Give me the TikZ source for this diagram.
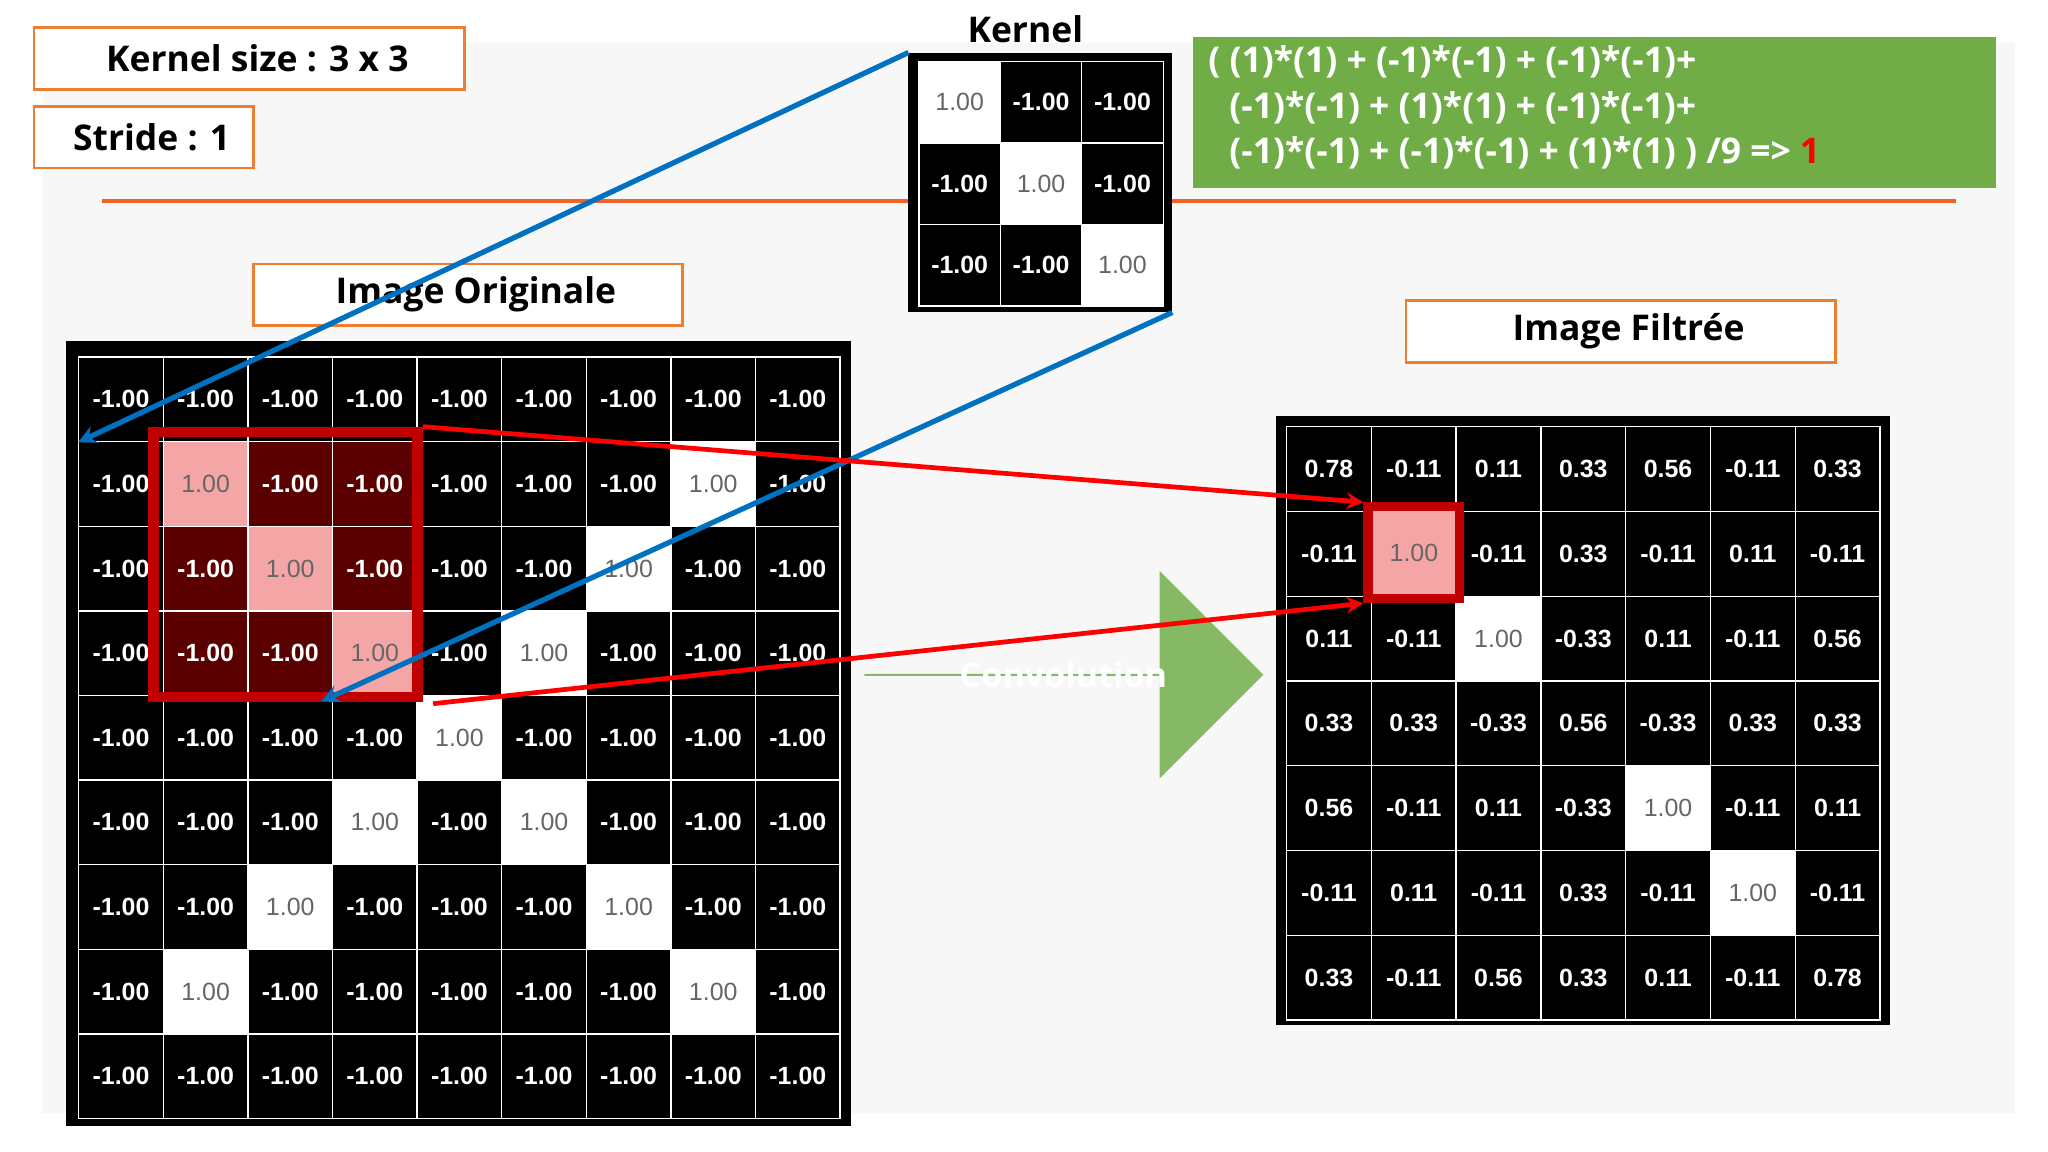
\documentclass[tikz,border=0pt]{standalone}
\usepackage{fontspec}
\setmainfont{Open Sans}
\newfontfamily\numf{Liberation Sans}
\usetikzlibrary{shapes.arrows}
\definecolor{obox}{HTML}{ED7D31}
\definecolor{gbox}{HTML}{70AD47}
\definecolor{bl}{HTML}{0070C0}
\definecolor{dred}{HTML}{C00000}
\definecolor{pinkc}{HTML}{F4A6A6}
\definecolor{drk}{HTML}{5A0000}
\definecolor{bg}{HTML}{F7F7F7}
\tikzset{
 lab/.style={draw=obox,line width=1pt,fill=white,anchor=north west,inner sep=0pt,font=\fontsize{13.5}{15}\selectfont\bfseries},
 negc/.style={draw=white,line width=0.5pt,fill=black,text=white,font=\numf\fontsize{9.5}{10}\selectfont\bfseries,inner sep=0pt},
 posc/.style={draw=white,line width=0.5pt,fill=white,text=black!60,font=\numf\fontsize{9.5}{10}\selectfont,inner sep=0pt},
 frame/.style={fill=black},
 blu/.style={bl,line width=2pt,-stealth},
 rda/.style={red,line width=1.8pt,-stealth},
}
\begin{document}
\begin{tikzpicture}[x=0.5pt,y=-0.5pt]
\useasboundingbox (0,0) rectangle (1560,877);
\fill[white] (0,0) rectangle (1560,877);
\fill[bg] (32,33) rectangle (1535,848);
\draw[obox!80!red,line width=1.5pt] (78,153) -- (1490,153);
% labels
\node[lab,minimum width=164pt,minimum height=23.5pt] (ks) at (25,20) {\hspace*{6pt}Kernel size : 3 x 3\hfill};
\node[lab,minimum width=83.5pt,minimum height=23.5pt] (st) at (25,80) {\hspace*{6pt}Stride : 1\hfill};
\node[lab,minimum width=163.5pt,minimum height=23.5pt] (io) at (192,200) {\hspace*{6pt}Image Originale\hfill};
\node[lab,minimum width=163.5pt,minimum height=23.5pt] (if) at (1070,228) {\hspace*{6pt}Image Filtrée\hfill};
\node[font=\fontsize{13.5}{15}\selectfont\bfseries] (kt) at (781,22) {Kernel};
% green formula
\node[fill=gbox,anchor=north west,minimum width=306pt,minimum height=57.5pt,inner sep=0pt] (gf) at (908,28) {};
\node[anchor=north west,text=white,font=\fontsize{13.5}{17.5}\selectfont\bfseries,align=left,inner sep=0pt] (gt) at (920,34)
 {( (1)*(1) + (-1)*(-1) + (-1)*(-1)+\\
 \hspace*{8pt}(-1)*(-1) + (1)*(1) + (-1)*(-1)+\\
 \hspace*{8pt}(-1)*(-1) + (-1)*(-1) + (1)*(1) ) /9 => \textcolor{red}{1}};
% kernel
\fill[frame] (692,40) rectangle (893,238);
\coordinate (ktl) at (692,40); \coordinate (kbr) at (893,238);
\foreach \r in {0,1,2} \foreach \c in {0,1,2}{
 \ifnum\r=\c \node[posc,minimum size=31pt] (k-\r-\c) at (731+62*\c,78+62*\r) {1.00};
 \else \node[negc,minimum size=31pt] (k-\r-\c) at (731+62*\c,78+62*\r) {-1.00}; \fi}
% original
\fill[frame] (50,260) rectangle (648,858);
\foreach \r in {0,...,8} \foreach \c in {0,...,8}{
 \pgfmathtruncatemacro\one{((\r==\c)||(\r+\c==8))&&(\r>0)&&(\r<8)}
 \pgfmathtruncatemacro\hl{(\r>0)&&(\r<4)&&(\c>0)&&(\c<4)}
 \ifnum\one=1
  \ifnum\hl=1 \node[posc,fill=pinkc,minimum size=32.2pt] (o-\r-\c) at (92.2+64.44*\c,304.2+64.44*\r) {1.00};
  \else \node[posc,minimum size=32.2pt] (o-\r-\c) at (92.2+64.44*\c,304.2+64.44*\r) {1.00}; \fi
 \else
  \ifnum\hl=1 \node[negc,fill=drk,minimum size=32.2pt] (o-\r-\c) at (92.2+64.44*\c,304.2+64.44*\r) {-1.00};
  \else \node[negc,minimum size=32.2pt] (o-\r-\c) at (92.2+64.44*\c,304.2+64.44*\r) {-1.00}; \fi
 \fi}
\draw[dred,line width=4pt] (117,329) rectangle (318,531);
\coordinate (hltr) at (322,325); \coordinate (hlbr) at (330,536);
% filtered
\fill[frame] (972,317) rectangle (1440,781);
\foreach \row [count=\r from 0] in {
 {0.78,-0.11,0.11,0.33,0.56,-0.11,0.33},
 {-0.11,1.00,-0.11,0.33,-0.11,0.11,-0.11},
 {0.11,-0.11,1.00,-0.33,0.11,-0.11,0.56},
 {0.33,0.33,-0.33,0.56,-0.33,0.33,0.33},
 {0.56,-0.11,0.11,-0.33,1.00,-0.11,0.11},
 {-0.11,0.11,-0.11,0.33,-0.11,1.00,-0.11},
 {0.33,-0.11,0.56,0.33,0.11,-0.11,0.78}}
 \foreach \v [count=\c from 0] in \row {
  \ifdim\v pt=1pt \node[posc,minimum size=32.3pt] (f-\r-\c) at (1012.3+64.57*\c,357.3+64.57*\r) {\v};
  \else \node[negc,minimum size=32.3pt] (f-\r-\c) at (1012.3+64.57*\c,357.3+64.57*\r) {\v}; \fi}
\node[posc,fill=pinkc,draw=dred,line width=3.5pt,minimum size=35pt] (fh) at (1077,421) {1.00};
% arrow
\node[single arrow,fill=gbox!85!white,minimum height=152pt,minimum width=79pt,single arrow head extend=20pt,single arrow head indent=0pt,inner sep=0pt,shape border rotate=0] (conv) at (810,514) {};
\node[text=white,font=\fontsize{13}{15}\selectfont\bfseries] (ct) at (810,514) {Convolution};
% connectors
\draw[blu] (ktl) -- (o-0-0.south west);
\draw[blu] (kbr) -- ([xshift=-4pt,yshift=-2pt]o-3-3.south west);
\draw[rda] (hltr) -- (fh.north west);
\draw[rda] (hlbr) -- (fh.south west);
\end{tikzpicture}
\end{document}
